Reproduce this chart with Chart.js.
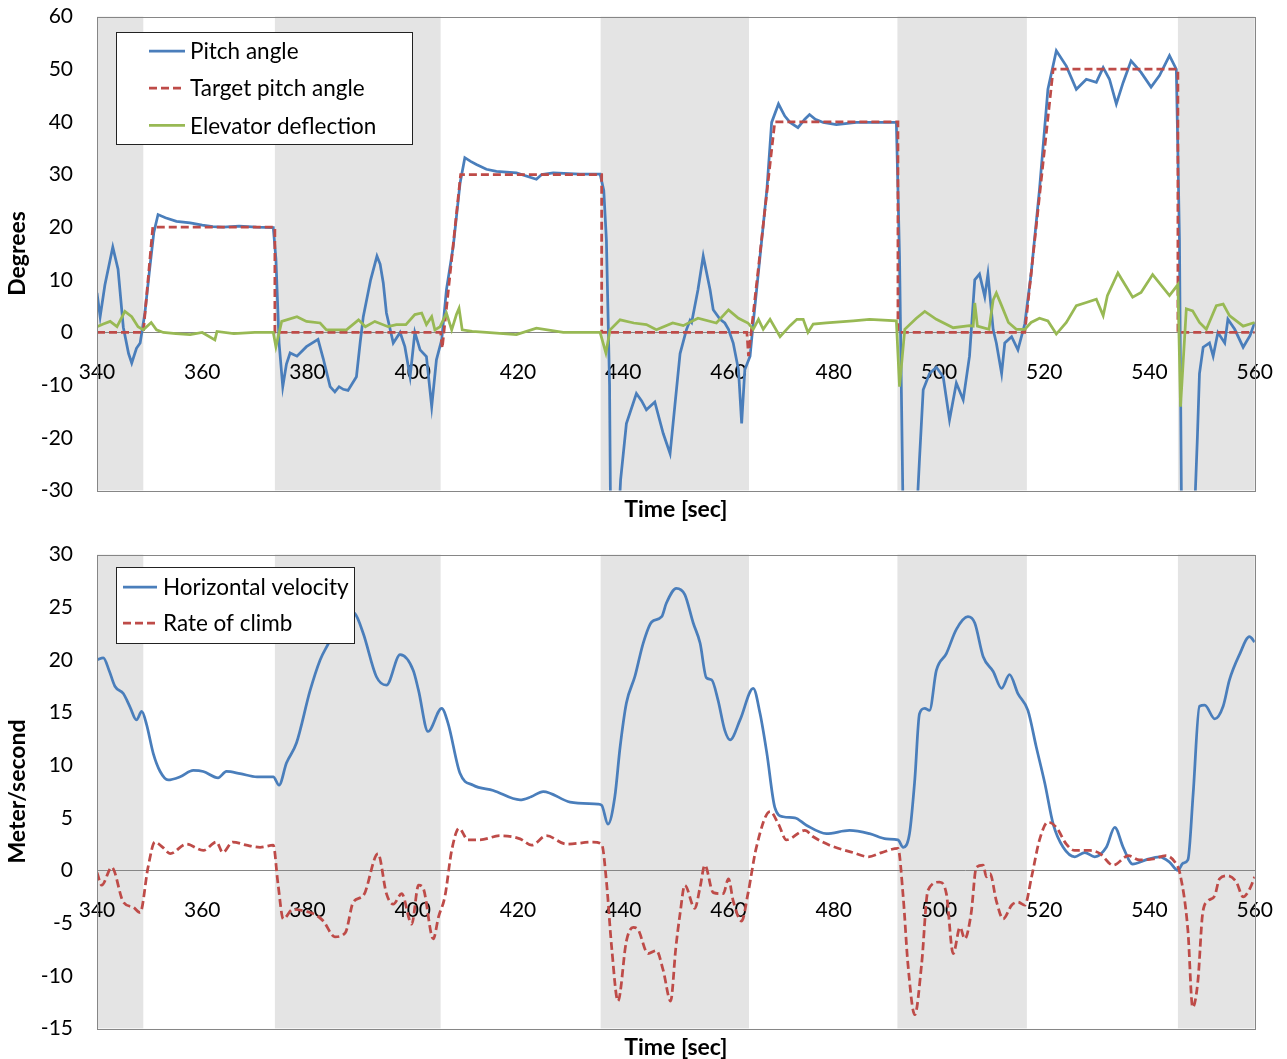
<!DOCTYPE html>
<html>
<head>
<meta charset="utf-8">
<script src="https://cdn.jsdelivr.net/npm/chart.js@4.4.1/dist/chart.umd.min.js"></script>
<style>
  body { margin: 0; background: #fff; overflow: hidden; }
  canvas { position: absolute; left: 0; }
  /* the tick padding adds about 37px above/below the plot, so the canvases start above their plot */
  #pitchChart { top: -20px; }
  #speedChart { top: 518px; }
</style>
</head>
<body>
<canvas id="pitchChart" width="1300" height="547"></canvas>
<canvas id="speedChart" width="1300" height="547"></canvas>
<script>
// Time axis and the grey manoeuvre bands
const timeMin = 340, timeMax = 560, timeStep = 20;
const bandStart = [340, 373.8, 435.7, 492.1, 545.4];
const bandEnd = [348.8, 405.3, 463.9, 516.7, 560];

// Top panel: pitch angle (deg)
const pitchT = [340, 340.6, 341.5, 343, 344, 345, 346, 346.6, 347.5, 348.2, 349.1, 350, 350.8, 351.6, 353, 355.1, 357.7, 360, 362, 364, 367, 370.3, 373.5,
  374, 374.6, 375.3, 376, 376.7, 378, 379.8, 382, 383, 384.3, 385.2, 386, 386.8, 387.7, 389.3, 390, 390.6, 392, 393.2, 393.8, 394.4, 395, 396.3, 397.6,
  398.5, 399.5, 400.4, 401.4, 402.6, 403.6, 404.5, 405.5, 406.4, 407.7, 409, 409.9, 411, 412.1, 414, 415.9, 419.7, 423.5, 424.5, 426.7, 431.8, 435.6,
  436.3, 436.8, 437.4, 437.6, 439.1, 439.5, 440.6, 442.5, 443.5, 444.4, 446, 447.6, 448.9, 449.8, 450.8, 452, 452.7, 453, 454.2, 455.2, 456.5, 457.1,
  458.4, 459.3, 460, 460.9, 461.9, 462.5, 463.1, 464.1, 464.7, 466, 467.3, 468.2, 469.5, 470.7, 471.7, 473.2, 474.5, 475.4, 476.5, 478, 480.5, 484.3,
  488.1, 491.9, 492.5, 493.2, 495.7, 496.3, 497, 498.2, 499.5, 500.8, 502, 503.3, 504.6, 505.8, 506.8, 507.7, 508.7, 509.3, 510.3, 510.9, 511.9, 512.5,
  513.8, 515, 516.3, 517.5, 519.1, 520.7, 522.3, 524.2, 526.1, 528, 529.9, 531.2, 532.4, 533.7, 535, 536.5, 538.4, 540.3, 541.9, 543.8, 545.1, 545.7,
  546.1, 548.5, 549.1, 549.5, 550.2, 551.4, 552.1, 553, 554.3, 554.9, 556.2, 557.8, 559.1, 560];
const pitchV = [7.5, 3, 9, 16.2, 12, 1, -4, -5.8, -3, -2, 3.7, 12, 19, 22.4, 21.8, 21.1, 20.8, 20.4, 20.1, 20, 20.2, 20, 19.9,
  14, -2, -10.3, -6, -3.9, -4.5, -2.7, -1.3, -5, -10.3, -11.3, -10.3, -10.8, -11, -8.4, -2, 3, 10, 14.5, 13, 9.4, 3.7, -2, 0,
  -2.7, -8.4, 0, -3.3, -4.6, -14.1, -5.2, -1.4, 8.1, 16.4, 28.4, 33.2, 32.5, 31.9, 31, 30.6, 30.3, 29.1, 30, 30.3, 30.1, 30.1,
  27, 17.6, -10, -36, -36, -28, -17.3, -11.6, -13, -14.7, -13.2, -19.2, -23, -14, -4, 0.5, 2.3, 1.9, 8.1, 14.5, 8.1, 4.3,
  2.5, 1.8, 0.6, -2, -7.1, -17.3, -7.1, -4.5, 1.8, 14.5, 27.2, 39.9, 43.4, 41.1, 39.9, 38.9, 40.5, 41.4, 40.5, 39.9, 39.5, 39.9,
  39.9, 39.9, 14.5, -36, -36, -24, -10.9, -7.8, -6.6, -8.4, -16.6, -9.6, -12.8, -4.5, 10, 11.1, 6.8, 11.1, 0.5, -2, -7.8, -2,
  -0.8, -3.3, 1.6, 11.1, 27.2, 46.2, 53.5, 50.6, 46.2, 48.1, 47.5, 50.3, 48.1, 43.4, 47.5, 51.6, 49.4, 46.6, 48.8, 52.6, 50, 17.6,
  -36, -36, -20, -7.8, -2.8, -2, -4.5, 0, -2, 2.5, 0.6, -2.8, -0.6, 1.9];

const targetT = [340, 348.8, 350.6, 373.8, 373.8, 405.3, 405.6, 409.1, 435.9, 435.9, 463.5, 463.8, 468.8, 492.2, 492.2, 516.3, 521.7, 545.4, 545.4, 560];
const targetV = [0, 0, 20, 20, 0, 0, -3, 30, 30, 0, 0, -4.5, 40, 40, 0, 0, 50, 50, 0, 0];

const elevT = [340, 341.2, 342.5, 343.8, 345.3, 346.6, 347.8, 348.8, 350.3, 351.3, 352.6, 355, 357.7, 360, 362.4, 362.8, 366, 370, 373.5, 374, 375.1,
  378, 379.8, 382.4, 383.6, 387.4, 389.7, 391, 392.8, 395.3, 396.9, 398.7, 400.4, 401.7, 402.6, 403.6, 404.2, 405.2, 406.4, 407.4, 408.3, 408.8, 409.4,
  411.3, 414, 419.7, 423.5, 428.6, 435.6, 436.7, 437.5, 439.4, 442, 444.4, 446.3, 449.4, 451.4, 454.2, 457.7, 460, 461.9, 463.7, 464.7, 465.7, 466.6,
  467.9, 469.8, 471.7, 473, 474.2, 475.1, 476.1, 478.6, 483.7, 486.8, 491.9, 492.5, 493.5, 495.7, 497.3, 499.5, 502.7, 505.8, 506.5, 506.8, 507.3,
  509.5, 510.3, 510.9, 511.9, 513.2, 514.7, 516.3, 517.5, 519.1, 520.7, 522.3, 524.2, 526.1, 528, 529.9, 531.2, 532, 534, 536.8, 538.4, 540.6, 543.8,
  545.4, 545.9, 547, 548.2, 549.5, 550.8, 552.7, 554, 555.2, 557.8, 560];
const elevV = [1.1, 1.6, 2.1, 1.1, 4, 3, 1.1, 0.5, 1.9, 0.5, 0, -0.2, -0.4, 0, -1.4, 0.2, -0.2, 0, 0, -2.7, 2.1,
  3, 2.1, 1.8, 0.5, 0.5, 2.4, 1.1, 2.1, 1.1, 1.5, 1.5, 3.4, 3.7, 1.5, 3, 0.5, 1.1, 3.7, 0.5, 3.4, 4.6, 0.5,
  0.2, 0, -0.4, 0.8, 0, 0, -3.9, 0.5, 2.4, 1.8, 1.5, 0.5, 1.8, 1.3, 2.7, 1.8, 4.3, 2.7, 1.8, 0.6, 2.5, 0.6,
  2.5, -0.8, 1.3, 2.5, 2.5, 0, 1.6, 1.8, 2.2, 2.5, 2.2, -10.3, 0.6, 2.7, 4, 2.5, 0.9, 1.3, 1.2, 5.6, 1.2,
  0.6, 6.2, 7.5, 5.1, 1.9, 0.6, 0.6, 1.9, 2.7, 2.2, -0.3, 1.9, 5.1, 5.7, 6.3, 3.2, 7, 11.3, 6.7, 7.6, 11, 7,
  9.1, -14.1, 4.5, 4.1, 1.9, 0.6, 5.1, 5.4, 3.2, 1.2, 1.9];

// Bottom panel: velocities (m/s)
const speedT = [340, 341.2, 342.3, 343.4, 345, 346.3, 347.5, 348.5, 349.4, 350.7, 352, 353.5, 355.8, 358.3, 360.2, 363, 364.6, 367.2, 370.4, 373.5,
  374.6, 376, 377.9, 380.5, 382.4, 384.3, 386.5, 389, 390.6, 393.1, 395, 397.6, 400.1, 401.1, 402.9, 405.5, 406.7, 409, 411.5, 415.3, 420.4, 422.5,
  424.8, 429.9, 435.2, 435.9, 437.1, 438.4, 439.4, 440.6, 442.2, 443.8, 445.4, 447.3, 448.2, 450.1, 451.7, 453.3, 454.6, 455.8, 456.8, 458, 459.3,
  460.3, 462.2, 464.7, 466, 467.3, 468.8, 470.4, 472.6, 474.8, 478.6, 483, 486.8, 490, 492.2, 493.2, 494.4, 495.4, 496.3, 497.3, 498.2, 499.5, 501.4,
  503.3, 505.5, 506.8, 508.4, 510.3, 511.9, 513.4, 515, 516.9, 518.5, 520.1, 521.7, 523.6, 525.8, 527.7, 529.6, 531.8, 533.4, 535, 536.8, 539.3,
  541.9, 543.8, 545.4, 546.4, 547.3, 548.3, 549.5, 550.5, 552.4, 554, 555.2, 557.1, 559, 560];
const speedV = [20, 20.2, 19, 17.5, 16.8, 15.5, 14.3, 15.1, 13.9, 11.1, 9.4, 8.6, 8.9, 9.5, 9.4, 8.8, 9.4, 9.2, 8.9, 8.9,
  8.1, 10.2, 12.1, 17.1, 20, 21.9, 24.8, 24.4, 22.5, 18.4, 17.6, 20.5, 19, 17.1, 13.2, 15.4, 14, 9.2, 8.1, 7.6, 6.7, 7,
  7.5, 6.5, 6.3, 6.2, 4.4, 7, 11.7, 15.9, 18.4, 21.6, 23.6, 24.1, 25.4, 26.8, 26.2, 23.5, 21.6, 18.3, 18.1, 16.2, 13.3,
  12.4, 14.3, 17.3, 14.9, 11.1, 6, 5.1, 5, 4.3, 3.5, 3.8, 3.5, 3, 2.9, 2.2, 3.5, 8.6, 14.9, 15.4, 15.2, 19, 20.6,
  22.9, 24.1, 23.5, 20.3, 18.9, 17.3, 18.6, 16.8, 15.2, 11.7, 8.3, 4.4, 2.2, 1.3, 1.7, 1.3, 2.2, 4.1, 2.2, 0.6, 1,
  1.3, 0.8, 0, 0.7, 1, 7.3, 15.6, 15.7, 14.4, 15.6, 18.1, 20.5, 22.2, 21.7];

const climbT = [340, 340.9, 342.8, 345, 346.9, 348.2, 349.7, 351, 352.5, 353.9, 357, 360.2, 362.7, 363.9, 365.8, 368.4, 371, 373.5, 374.4, 375.4,
  377.2, 379.8, 381.5, 383, 385.2, 387.2, 388.7, 390.6, 393.4, 395, 396.3, 397.9, 399.8, 401.1, 402, 403.9, 404.9, 406.1, 407.4, 408.8, 410.5,
  412.7, 416.6, 420.4, 422.6, 425.4, 429.2, 434.3, 435.9, 436.8, 437.8, 439, 440.6, 441.9, 442.8, 444.7, 446.3, 447.6, 449, 450, 450.8, 451.7,
  453.6, 454.6, 455.5, 457.1, 459, 460, 460.9, 462.5, 463.7, 465.3, 467.9, 469.5, 471, 474.5, 476.1, 479.2, 483.7, 486.6, 489.1, 492.2, 493.2,
  494.1, 495.4, 496.7, 497.9, 500.1, 501.4, 502.7, 504, 504.9, 506.1, 507.1, 508.4, 509, 509.7, 510.9, 512.2, 513.8, 515, 516.3, 517.6, 519.1,
  520.7, 522.3, 524.2, 525.8, 528.7, 530.6, 533.1, 536, 538.1, 540.7, 543.1, 545.1, 545.8, 547.3, 548.2, 549.2, 550.1, 551.1, 552.4, 553.3, 554.9,
  556.5, 557.8, 559.1, 560];
const climbV = [-0.2, -1.4, 0.3, -3, -3.5, -4, 0.3, 2.7, 2.2, 1.6, 2.5, 1.9, 2.7, 1.7, 2.7, 2.4, 2.2, 2.4, -1.3, -4.6,
  -3.7, -3.9, -4.2, -4.8, -6.3, -5.9, -3, -2.4, 1.6, -2.2, -3.2, -2.2, -5.1, -1.4, -1.7, -6.5, -4.4, -2.5, 1.9, 4, 2.9,
  2.9, 3.3, 3, 2.4, 3.3, 2.5, 2.7, 2.5, -1, -7.3, -12.4, -6.7, -5.4, -5.6, -7.9, -7.6, -9.5, -12.4, -7.3, -4.1, -1.4,
  -3.6, -1.6, 0.5, -2.1, -2.2, -0.8, -2.9, -4.8, -2.2, 2.2, 5.6, 4.4, 2.9, 3.8, 3.2, 2.4, 1.7, 1.3, 1.7, 2.1, -2.5,
  -8.9, -13.7, -8.9, -1.9, -1.1, -2.2, -7.9, -5.4, -6.5, -4.1, 0.3, 0.5, -0.6, -0.3, -2.9, -4.6, -3.3, -3, -3.3, -0.6, 2.9,
  4.6, 4.1, 2.5, 1.9, 1.9, 1.6, 0.5, 1.4, 1, 1.1, 1.4, 0.6, -0.3, -5.7, -13, -10.5, -4.1, -2.9, -2.4, -0.8, -0.5,
  -1.1, -2.5, -1.7, -0.6];

const pts = (t, v) => t.map((x, i) => ({ x: x, y: v[i] }));

const FONT = 'Lato';
const tickFont = { family: FONT, size: 21 };
const boldFont = { family: FONT, size: 23, weight: 'bold' };

// grey bands behind everything (drawn before the scales so the zero line stays on top)
const bandsPlugin = {
    id: 'bands',
    beforeDraw(chart, args, opts) {
        const { ctx, chartArea, scales } = chart;
        ctx.save();
        ctx.fillStyle = opts.color;
        opts.start.forEach((s, i) => {
            const x0 = scales.x.getPixelForValue(s);
            const x1 = scales.x.getPixelForValue(opts.end[i]);
            ctx.fillRect(x0, chartArea.top, x1 - x0, chartArea.bottom - chartArea.top);
        });
        ctx.restore();
    },
    afterDatasetsDraw(chart) {
        // plot area frame
        const { ctx, chartArea } = chart;
        ctx.save();
        ctx.strokeStyle = '#868686';
        ctx.lineWidth = 1;
        ctx.strokeRect(Math.round(chartArea.left) + 0.5, Math.round(chartArea.top) + 0.5,
            Math.round(chartArea.right - chartArea.left), Math.round(chartArea.bottom - chartArea.top));
        ctx.restore();
    }
};

// Excel style legend: white box with a thin frame, inside the plot
const boxLegend = {
    id: 'boxLegend',
    afterDraw(chart, args, opts) {
        const { ctx, chartArea } = chart;
        const left = Math.round(chartArea.left + opts.dx), top = Math.round(chartArea.top + opts.dy);
        ctx.save();
        ctx.fillStyle = '#fff';
        ctx.fillRect(left, top, opts.w, opts.h);
        ctx.strokeStyle = '#222';
        ctx.lineWidth = 1;
        ctx.strokeRect(left + 0.5, top + 0.5, opts.w, opts.h);
        ctx.font = '22.5px ' + FONT;
        ctx.textBaseline = 'middle';
        chart.data.datasets.forEach((ds, i) => {
            const y = top + opts.rowStart + i * opts.rowStep;
            ctx.beginPath();
            ctx.setLineDash(ds.borderDash || []);
            ctx.strokeStyle = ds.borderColor;
            ctx.lineWidth = ds.borderWidth;
            ctx.moveTo(left + opts.lineX, y);
            ctx.lineTo(left + opts.lineX + opts.lineLen, y);
            ctx.stroke();
            ctx.setLineDash([]);
            ctx.fillStyle = '#000';
            ctx.fillText(ds.label, left + opts.textX, y + 1);
        });
        ctx.restore();
    }
};

function panelOptions(yMin, yMax, yStep, yTitle, legend) {
    return {
        responsive: false,
        animation: false,
        layout: { padding: 0 },
        scales: {
            x: {
                type: 'linear',
                min: timeMin,
                max: timeMax,
                position: { y: 0 },
                grid: { display: false, drawTicks: false },
                border: { display: true, color: '#868686', width: 1 },
                ticks: { stepSize: timeStep, autoSkip: false, maxRotation: 0, padding: 27, color: '#000', font: tickFont }
            },
            y: {
                min: yMin,
                max: yMax,
                grid: { display: false, drawTicks: false },
                border: { display: false },
                ticks: { stepSize: yStep, padding: 24, color: '#000', font: tickFont },
                title: { display: true, text: yTitle, color: '#000', font: boldFont, padding: { top: 4, bottom: 0 } },
                afterFit(scale) { scale.width = 97; }
            }
        },
        plugins: {
            legend: { display: false },
            tooltip: { enabled: false },
            title: {
                display: true,
                text: 'Time [sec]',
                position: 'bottom',
                fullSize: false,
                color: '#000',
                font: boldFont,
                padding: { top: 5, bottom: 0 }
            },
            bands: { start: bandStart, end: bandEnd, color: '#e4e4e4' },
            boxLegend: legend
        }
    };
}

const lineBase = { pointRadius: 0, borderWidth: 2.75, fill: false };

new Chart(document.getElementById('pitchChart'), {
    type: 'line',
    data: {
        datasets: [
            { ...lineBase, label: 'Pitch angle', data: pts(pitchT, pitchV), borderColor: '#4a7ebb', order: 3 },
            { ...lineBase, label: 'Target pitch angle', data: pts(targetT, targetV), borderColor: '#be4b48', borderDash: [8, 4], order: 2 },
            { ...lineBase, label: 'Elevator deflection', data: pts(elevT, elevV), borderColor: '#98b954', order: 1 }
        ]
    },
    options: panelOptions(-30, 60, 10, 'Degrees',
        { dx: 19, dy: 15.5, w: 296, h: 112, rowStart: 19, rowStep: 37.2, lineX: 33, lineLen: 36, textX: 74 }),
    plugins: [bandsPlugin, boxLegend]
});

new Chart(document.getElementById('speedChart'), {
    type: 'line',
    data: {
        datasets: [
            { ...lineBase, label: 'Horizontal velocity', data: pts(speedT, speedV), borderColor: '#4a7ebb', cubicInterpolationMode: 'monotone', order: 2 },
            { ...lineBase, label: 'Rate of climb', data: pts(climbT, climbV), borderColor: '#be4b48', borderDash: [8, 4], cubicInterpolationMode: 'monotone', order: 1 }
        ]
    },
    options: panelOptions(-15, 30, 5, 'Meter/second',
        { dx: 19, dy: 12, w: 238, h: 76, rowStart: 20, rowStep: 36, lineX: 7, lineLen: 34, textX: 47 }),
    plugins: [bandsPlugin, boxLegend]
});
</script>
</body>
</html>
